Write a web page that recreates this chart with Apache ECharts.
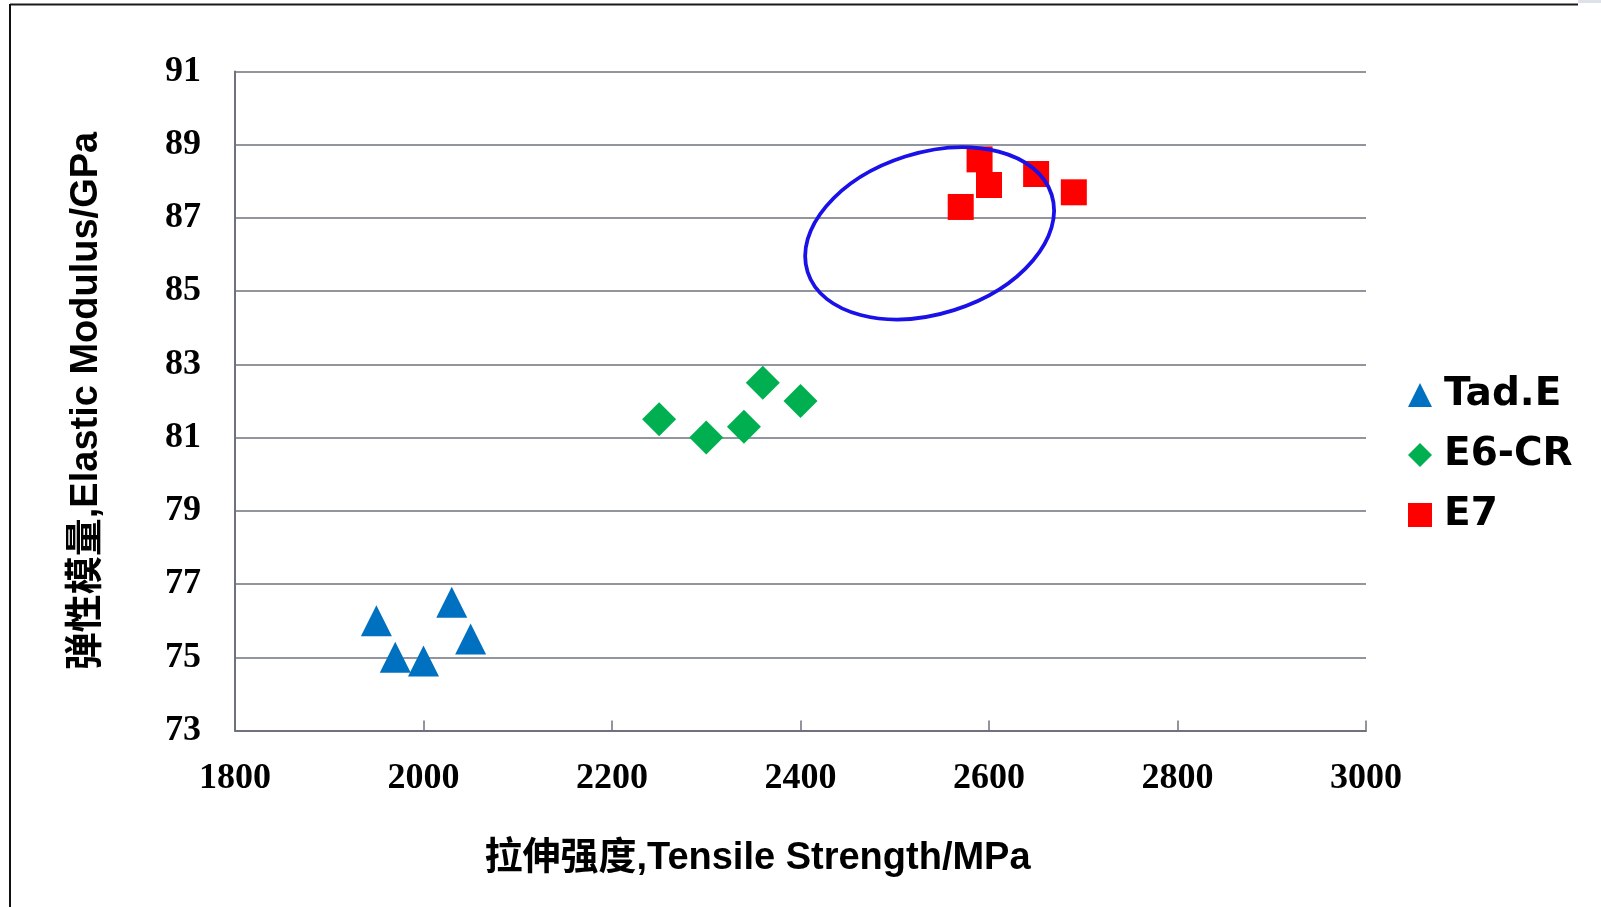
<!DOCTYPE html>
<html>
<head>
<meta charset="utf-8">
<script src="https://cdn.jsdelivr.net/npm/echarts@6/dist/echarts.min.js"></script>
<style>
html,body{margin:0;padding:0;background:#fff;}
#chart{width:1601px;height:907px;}
</style>
</head>
<body>
<div id="chart"></div>
<script>
// ---- data ----
const seriesNames = ['Tad.E', 'E6-CR', 'E7'];
const tadE_x = [1950, 1970, 2000, 2030, 2050];
const tadE_y = [76.0, 75.0, 74.9, 76.5, 75.5];
const e6cr_x = [2250, 2300, 2340, 2360, 2400];
const e6cr_y = [81.5, 81.0, 81.3, 82.5, 82.0];
const e7_x = [2590, 2600, 2650, 2690, 2570];
const e7_y = [88.6, 87.9, 88.2, 87.7, 87.3];
const xAxisTitle = '拉伸强度,Tensile Strength/MPa';
const yAxisTitle = '弹性模量,Elastic Modulus/GPa';
// highlight ellipse (annotation), centre in data units
const ellipseCenter = [2537, 86.58];

function pairs(xs, ys) { return xs.map((x, i) => [x, ys[i]]); }

const chart = echarts.init(document.getElementById('chart'), null, {renderer: 'canvas'});
const axisColor = '#6e727c';
const serif = '"Liberation Serif", "Times New Roman", serif';
const sans = '"Liberation Sans", Arial, "Noto Sans CJK SC", sans-serif';

const option = {
  backgroundColor: '#fff',
  animation: false,
  grid: {left: 235, right: 235, top: 71.5, bottom: 176.5},
  xAxis: {
    type: 'value', min: 1800, max: 3000, interval: 200,
    axisLine: {show: true, lineStyle: {color: axisColor, width: 2}},
    axisTick: {show: true, inside: true, length: 10, lineStyle: {color: axisColor, width: 1.5}},
    splitLine: {show: false},
    axisLabel: {color: '#000', fontFamily: serif, fontWeight: 'bold', fontSize: 36, margin: 30,
                formatter: v => String(v)},
    name: xAxisTitle, nameLocation: 'middle', nameGap: 109,
    nameTextStyle: {color: '#000', fontFamily: sans, fontWeight: 'bold', fontSize: 38, padding: [0, 86, 0, 0]}
  },
  yAxis: {
    type: 'value', min: 73, max: 91, interval: 2,
    axisLine: {show: true, lineStyle: {color: axisColor, width: 2}},
    axisTick: {show: false},
    splitLine: {show: true, lineStyle: {color: axisColor, width: 1.5}},
    axisLabel: {color: '#000', fontFamily: serif, fontWeight: 'bold', fontSize: 36, margin: 34,
                padding: [4, 0, 0, 0], formatter: v => String(v)},
    name: yAxisTitle, nameLocation: 'middle', nameGap: 129, nameRotate: 90,
    nameTextStyle: {color: '#000', fontFamily: sans, fontWeight: 'bold', fontSize: 38}
  },
  legend: {
    orient: 'vertical', left: 1403, top: 370, itemGap: 20,
    itemWidth: 24, itemHeight: 24,
    textStyle: {color: '#000', fontFamily: '"DejaVu Sans", sans-serif', fontWeight: 'bold', fontSize: 39, lineHeight: 40, padding: [0, 0, 0, 7]},
    data: seriesNames
  },
  series: [
    {name: seriesNames[0], type: 'scatter', symbol: 'triangle', symbolSize: 31,
     itemStyle: {color: '#0070C0', opacity: 1}, data: pairs(tadE_x, tadE_y)},
    {name: seriesNames[1], type: 'scatter', symbol: 'diamond', symbolSize: 34,
     itemStyle: {color: '#00B050', opacity: 1}, data: pairs(e6cr_x, e6cr_y)},
    {name: seriesNames[2], type: 'scatter', symbol: 'rect', symbolSize: 26,
     itemStyle: {color: '#FF0000', opacity: 1}, data: pairs(e7_x, e7_y)}
  ]
};
chart.setOption(option);

const c = chart.convertToPixel({gridIndex: 0}, ellipseCenter);
chart.setOption({
  graphic: [
    {type: 'rect', shape: {x: 1578, y: 0, width: 23, height: 3}, style: {fill: '#dde2e8'}, silent: true},
    {type: 'line', shape: {x1: 10, y1: 4.5, x2: 1578, y2: 4.5}, style: {stroke: '#1a1a1a', lineWidth: 2}, silent: true},
    {type: 'line', shape: {x1: 10, y1: 4, x2: 10, y2: 907}, style: {stroke: '#111', lineWidth: 2}, silent: true},
    {type: 'ellipse', x: c[0], y: c[1], rotation: 17.6 * Math.PI / 180,
     shape: {cx: 0, cy: 0, rx: 128, ry: 80.6},
     style: {fill: null, stroke: '#1a10e8', lineWidth: 3.8}, z: 10, silent: true}
  ]
});
</script>
</body>
</html>
